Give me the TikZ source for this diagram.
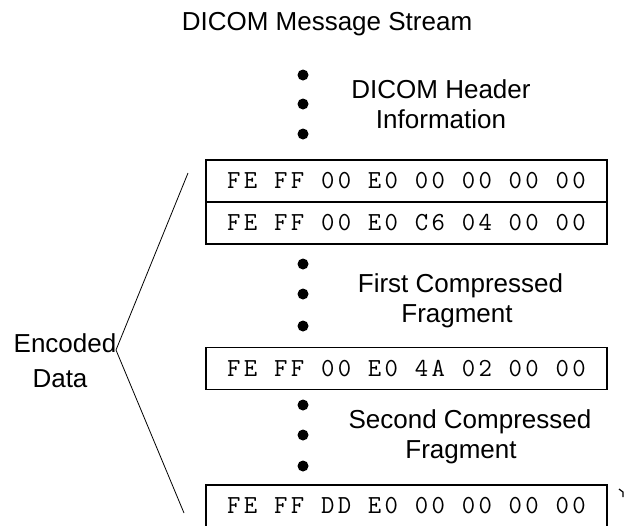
\documentclass[tikz,border=0pt]{standalone}
\usepackage{fontspec}
\setmainfont{Liberation Sans}
\newfontfamily\bytefont{Latin Modern Mono}[LetterSpace=13]
\begin{document}
\begin{tikzpicture}[x=1pt,y=-1pt,
  label/.style={font=\fontsize{26}{30}\selectfont, anchor=base, inner sep=0pt},
  bytes/.style={draw, line width=1.6pt, minimum width=401pt, minimum height=42pt,
    inner sep=0pt, font=\bytefont\fontsize{26}{30}\selectfont},
  dot/.style={circle, fill=black, inner sep=0pt, minimum size=11pt},
  brace/.style={line width=0.8pt}]
\useasboundingbox (0,0) rectangle (631,525);
\clip (0,0) rectangle (631,525);

% title
\node[label] (title) at (327,30) {DICOM Message Stream};

% header block
\node[dot] (h1) at (303,75) {};
\node[dot] (h2) at (303,104) {};
\node[dot] (h3) at (303,134) {};
\node[label] (hdrA) at (441,98) {DICOM Header};
\node[label] (hdrB) at (441,128) {Information};

% item delimiters and offset table
\node[bytes] (row1) at (406.5,181) {FE FF 00 E0 00 00 00 00};
\node[bytes] (row2) at (406.5,223) {FE FF 00 E0 C6 04 00 00};

% first fragment
\node[dot] (f1) at (303,264) {};
\node[dot] (f2) at (303,294) {};
\node[dot] (f3) at (303,326) {};
\node[label] (frA) at (460.5,292) {First Compressed};
\node[label] (frB) at (457,322) {Fragment};

\node[bytes] (row3) at (406.5,368.5) {FE FF 00 E0 4A 02 00 00};

% second fragment
\node[dot] (s1) at (303,405) {};
\node[dot] (s2) at (303,435) {};
\node[dot] (s3) at (303,466) {};
\node[label] (scA) at (470,428) {Second Compressed};
\node[label] (scB) at (461,458) {Fragment};

% sequence delimiter
\node[bytes] (row4) at (406.5,506) {FE FF DD E0 00 00 00 00};

% encoded data bracket
\node[label] (encA) at (65,352) {Encoded};
\node[label] (encB) at (60,387) {Data};
\coordinate (tip) at (116,350);
\coordinate (topEnd) at (188,173);
\coordinate (botEnd) at (184,513);
\draw[brace] (topEnd) -- (tip) -- (botEnd);

% small mark beside the last row
\coordinate (markA) at (619,489);
\coordinate (markB) at (623,492);
\coordinate (markC) at (623,497);
\draw[line width=1.2pt] (markA) -- (markB) -- (markC);
\end{tikzpicture}
\end{document}
